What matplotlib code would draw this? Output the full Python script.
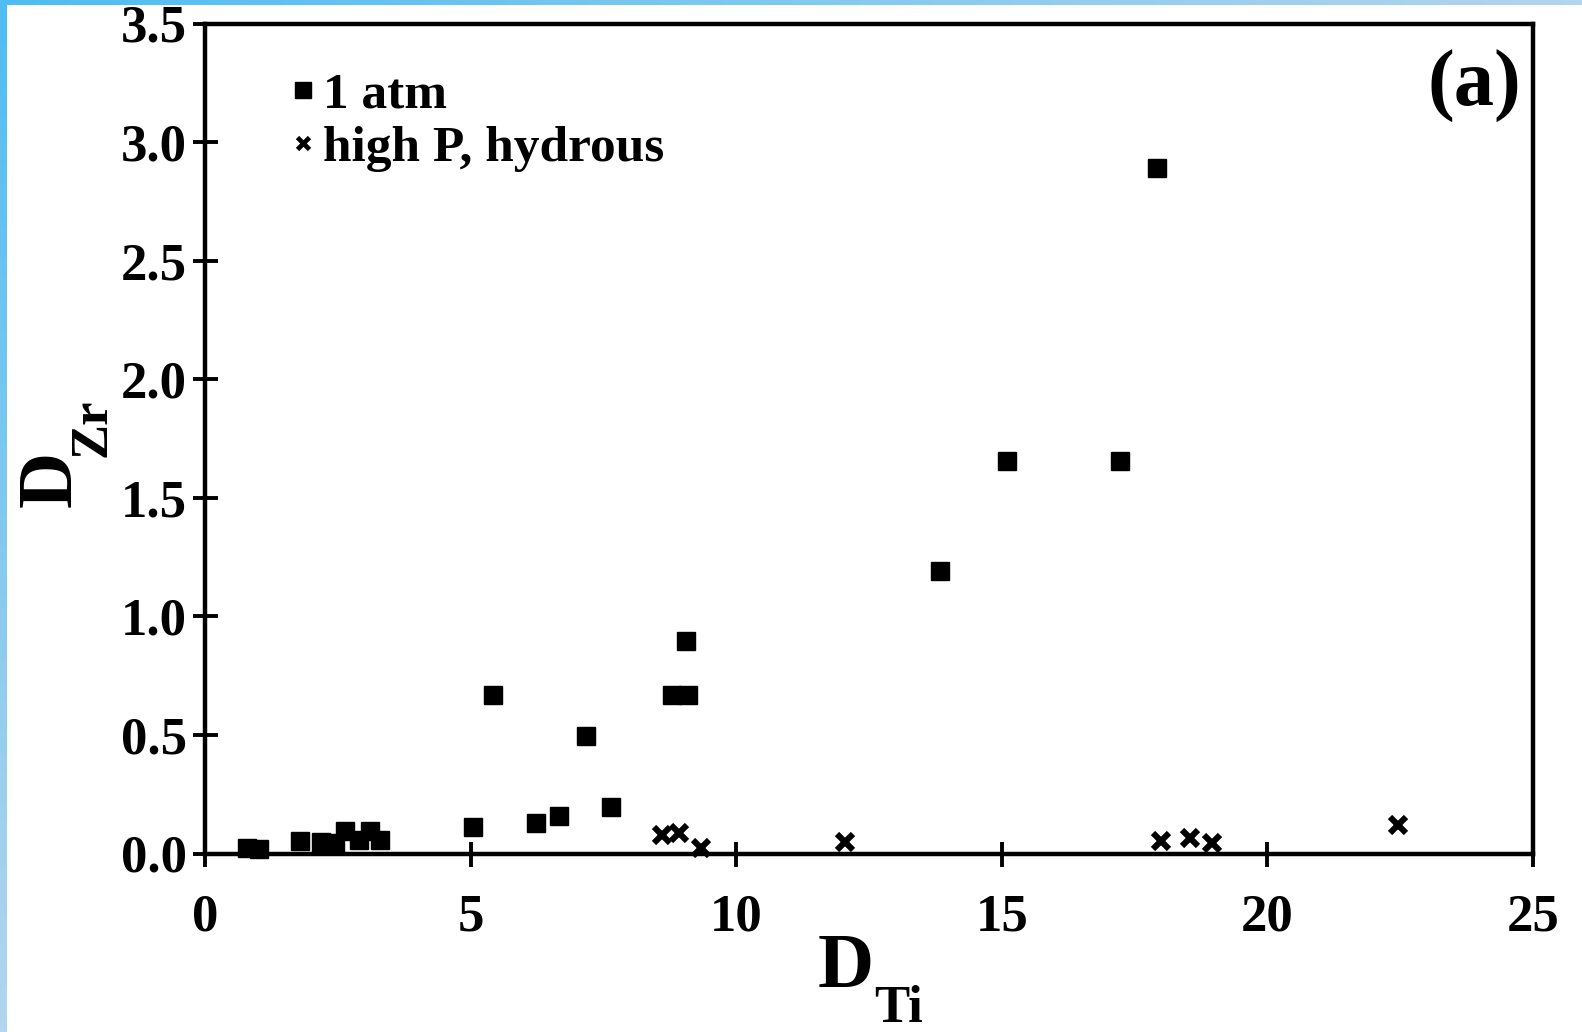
import numpy as np
import matplotlib
matplotlib.use("Agg")
import matplotlib.pyplot as plt
from matplotlib.lines import Line2D
from matplotlib.colors import LinearSegmentedColormap

# Partition coefficients: D_Zr versus D_Ti
atm_dti = [0.79, 1.02, 1.79, 2.19, 2.45, 2.64, 2.90, 3.10, 3.30, 5.04, 5.42,
           6.24, 6.66, 7.17, 7.64, 8.79, 9.10, 9.06, 13.83, 15.10, 17.23, 17.93]
atm_dzr = [0.025, 0.018, 0.054, 0.048, 0.045, 0.096, 0.057, 0.096, 0.058, 0.113, 0.667,
           0.130, 0.158, 0.496, 0.197, 0.667, 0.667, 0.895, 1.19, 1.655, 1.655, 2.89]

hp_dti = [8.60, 8.92, 9.33, 12.04, 17.99, 18.54, 18.96, 22.46]
hp_dzr = [0.078, 0.085, 0.022, 0.047, 0.051, 0.064, 0.043, 0.120]

x_ticks = [0, 5, 10, 15, 20, 25]
y_ticks = [0.0, 0.5, 1.0, 1.5, 2.0, 2.5, 3.0, 3.5]
labels = ["1 atm", "high P, hydrous"]

W, H = 1582, 1032
plt.rcParams["font.family"] = ["Liberation Serif", "DejaVu Serif"]
plt.rcParams["font.weight"] = "bold"

fig = plt.figure(figsize=(W / 100, H / 100), dpi=100)
fig.patch.set_facecolor("white")

# blue page edges
edge = LinearSegmentedColormap.from_list("edge", ["#4FBDF2", "#B3D5EE"])
ax_l = fig.add_axes([0, 0, 7 / W, 1])
ax_l.imshow(np.linspace(0, 1, 256)[:, None], aspect="auto", cmap=edge)
ax_l.set_axis_off()
ax_t = fig.add_axes([0, 1 - 5 / H, 1, 5 / H])
ax_t.imshow(np.linspace(0, 1, 256)[None, :], aspect="auto", cmap=edge)
ax_t.set_axis_off()

x0, x1 = 205, 1533
y0, y1 = 853.5, 23.5
ax = fig.add_axes([x0 / W, 1 - y0 / H, (x1 - x0) / W, (y0 - y1) / H])
ax.set_xlim(0, 25)
ax.set_ylim(0, 3.5)

for side in ["left", "bottom", "top", "right"]:
    ax.spines[side].set_linewidth(3.2)
    ax.spines[side].set_color("black")

ax.set_xticks(x_ticks)
ax.set_xticklabels([str(v) for v in x_ticks])
ax.set_yticks(y_ticks)
ax.set_yticklabels([f"{v:.1f}" for v in y_ticks])
ax.tick_params(axis="both", direction="inout", length=18, width=2.8,
               labelsize=38, colors="black")
ax.tick_params(axis="x", pad=20)
ax.tick_params(axis="y", pad=4)
for lab in ax.get_xticklabels() + ax.get_yticklabels():
    lab.set_fontweight("bold")

ax.plot(atm_dti, atm_dzr, linestyle="none", marker="s", markersize=13,
        color="black", clip_on=False, zorder=3)
ax.plot(hp_dti, hp_dzr, linestyle="none", marker="x", markersize=11.5,
        markeredgewidth=4.4, color="black", clip_on=False, zorder=3)

handles = [
    Line2D([], [], linestyle="none", marker="s", markersize=11, color="black"),
    Line2D([], [], linestyle="none", marker="x", markersize=8,
           markeredgewidth=3.4, color="black"),
]
leg = ax.legend(handles, labels, loc="upper left", bbox_to_anchor=(0.066, 0.942),
                frameon=False, handlelength=0.4, handletextpad=0.2,
                labelspacing=0.12, borderpad=0, borderaxespad=0,
                prop={"size": 37, "weight": "bold"})

ax.text(0.991, 0.924, "(a)", transform=ax.transAxes, ha="right", va="center",
        fontsize=58, fontweight="bold")


def fx(px):
    return px / W


def fy(py):
    return 1 - py / H


# axis titles with subscripts
fig.text(fx(846), fy(987), "D", ha="center", va="baseline",
         fontsize=56, fontweight="bold")
fig.text(fx(874), fy(1022), "Ti", ha="left", va="baseline",
         fontsize=38, fontweight="bold")
fig.text(fx(52), fy(479), "D", ha="center", va="center", rotation=90,
         fontsize=56, fontweight="bold")
fig.text(fx(93), fy(428), "Zr", ha="center", va="center", rotation=90,
         fontsize=38, fontweight="bold")

fig.savefig("out.png", dpi=100, facecolor="white")
